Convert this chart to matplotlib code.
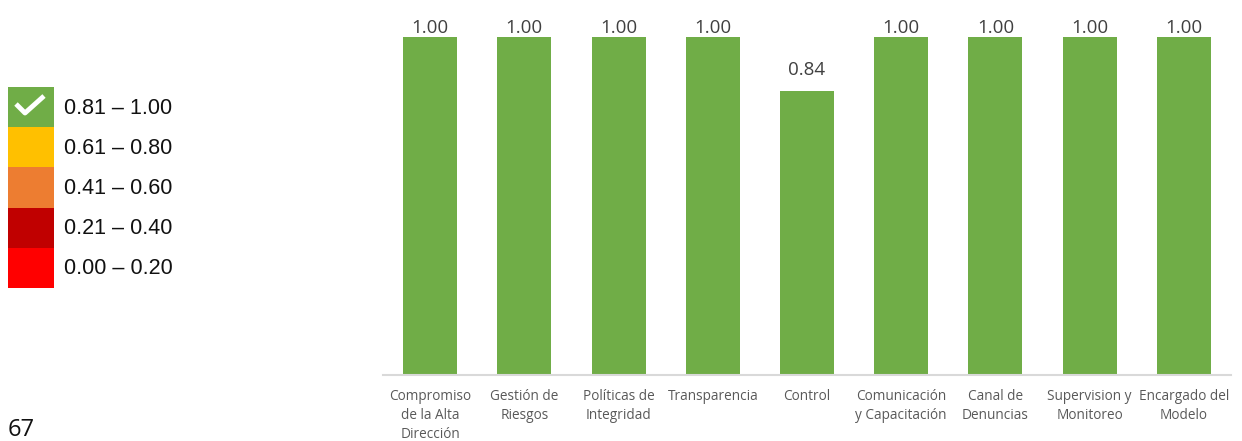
import numpy as np
import matplotlib.pyplot as plt
from matplotlib.patches import Rectangle

# data
categorias = ["Compromiso\nde la Alta\nDirección", "Gestión de\nRiesgos",
              "Políticas de\nIntegridad", "Transparencia", "Control",
              "Comunicación\ny Capacitación", "Canal de\nDenuncias",
              "Supervision y\nMonitoreo", "Encargado del\nModelo"]
valores = [1.00, 1.00, 1.00, 1.00, 0.84, 1.00, 1.00, 1.00, 1.00]

rangos = ["0.81 – 1.00", "0.61 – 0.80", "0.41 – 0.60", "0.21 – 0.40", "0.00 – 0.20"]
colores_rango = ["#70AD47", "#FFC000", "#ED7D31", "#C00000", "#FF0000"]

W, H = 1242, 441
fig = plt.figure(figsize=(W / 100, H / 100), dpi=100)

# bar chart, placed in pixel terms
left, right, top, base = 383, 1231, 10, 375
ax = fig.add_axes([left / W, (H - base) / H, (right - left) / W, (base - top) / H])
x = np.arange(len(valores))
bars = ax.bar(x, valores, width=0.573, color="#70AD47")
ax.set_xlim(-0.5, len(valores) - 0.5)
ax.set_ylim(0, (base - top) / 338)
for xi, v in zip(x, valores):
    # labels of the full bars sit squeezed against the top of the plot area
    ax.text(xi, min(v + 0.036, 1.0), f"{v:.2f}", ha="center", va="bottom",
            fontsize=13.5, color="#404040", family="Open Sans")
ax.set_xticks(x)
ax.set_xticklabels(categorias, fontsize=9.8, color="#595959", family="Open Sans",
                   linespacing=1.36)
ax.tick_params(axis="x", length=0, pad=10)
ax.set_yticks([])
for s in ["left", "right", "top"]:
    ax.spines[s].set_visible(False)
ax.spines["bottom"].set_color("#D9D9D9")
ax.spines["bottom"].set_linewidth(1.5)

# colour-range legend on the left, in pixel coordinates
lg = fig.add_axes([0, 0, 1, 1])
lg.set_xlim(0, W)
lg.set_ylim(H, 0)
lg.axis("off")
y0, h = 87, 40.2
for i, (txt, c) in enumerate(zip(rangos, colores_rango)):
    lg.add_patch(Rectangle((8, y0 + i * h), 46, h, color=c, lw=0))
    lg.text(64, y0 + i * h + h / 2 + 1, txt, ha="left", va="center",
            fontsize=15.5, family="Liberation Sans", color="#111111")
lg.plot([16, 25, 44], [104, 113, 96], color="white", lw=3.5, solid_capstyle="butt")

fig.text(8 / W, 1 - 430 / H, "67", fontsize=17, family="Open Sans",
         ha="left", va="center", color="#111111")

fig.savefig("out.png", dpi=100)
